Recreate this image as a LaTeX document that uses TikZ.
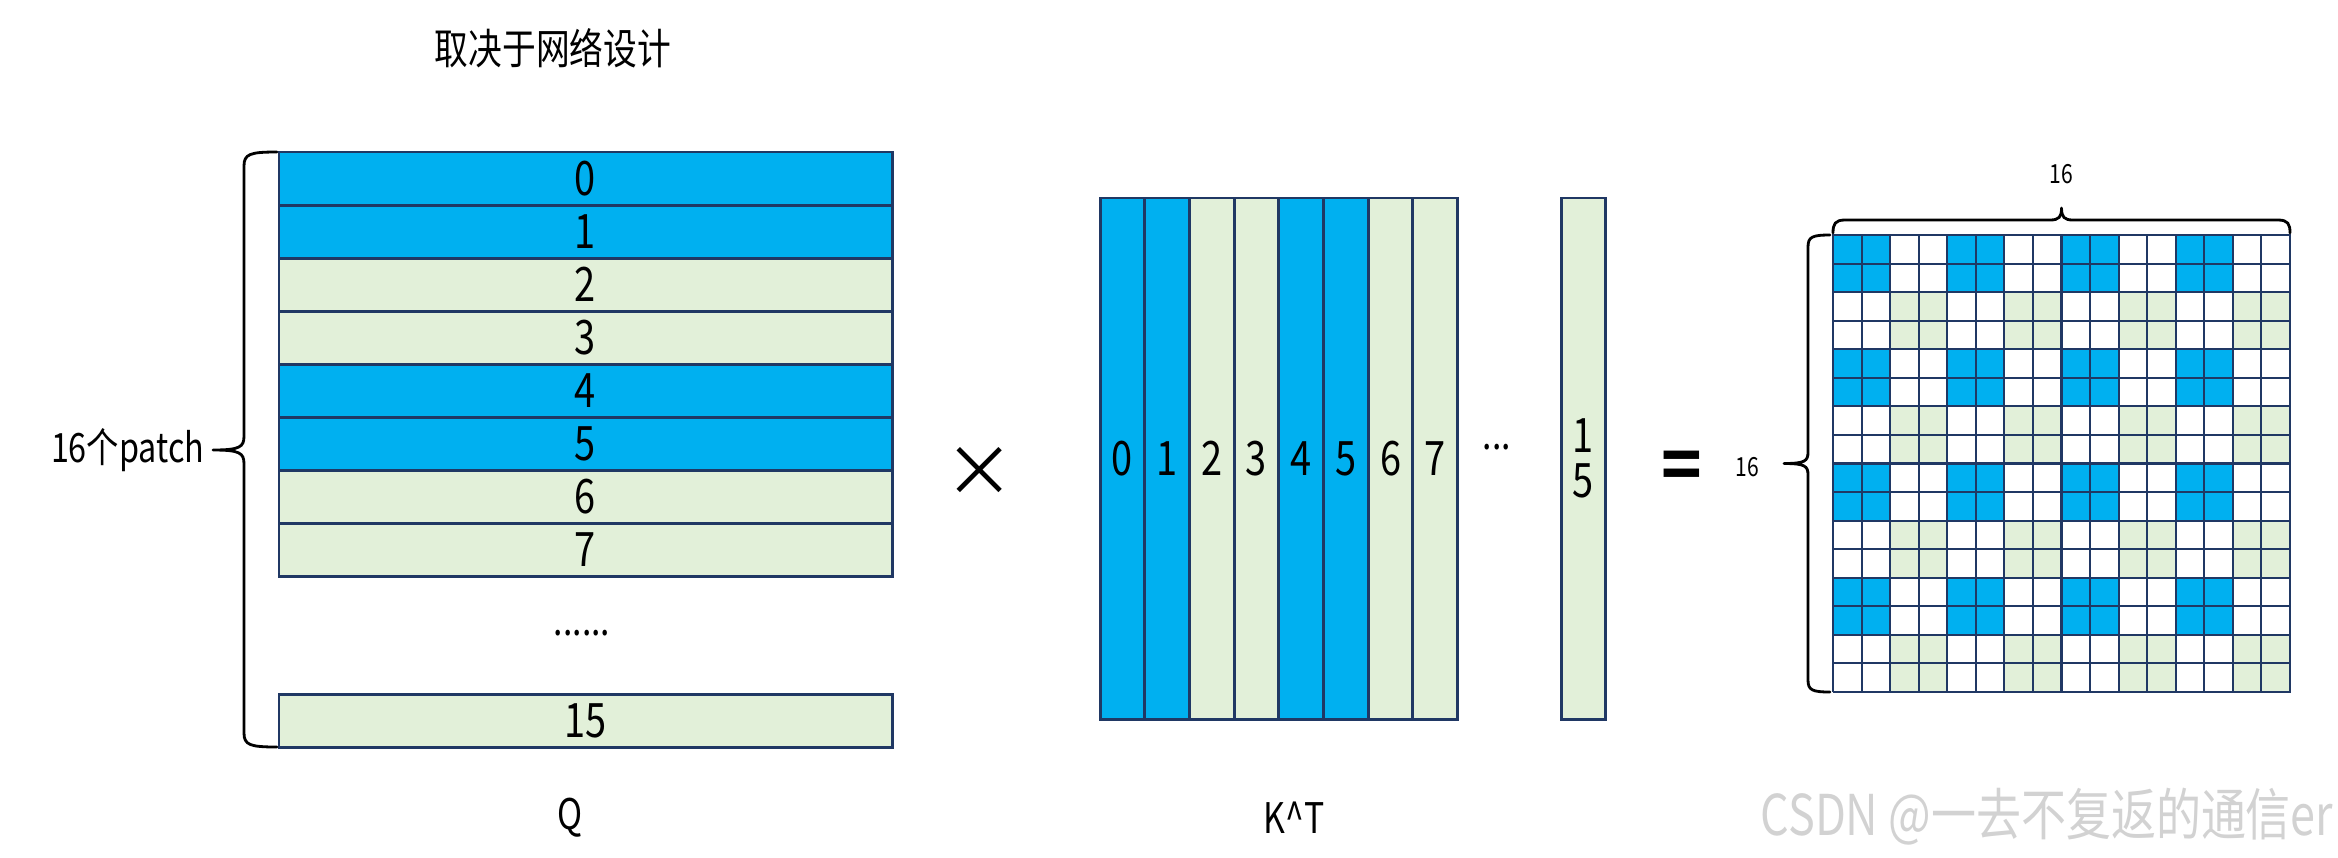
\documentclass[tikz,border=0pt]{standalone}
\usepackage{fontspec}
\setmainfont{Noto Sans CJK SC}[FakeStretch=0.8]
\newfontfamily\symfont{Noto Sans CJK SC}
\usepackage{tikz}
\usetikzlibrary{arrows.meta,calc,positioning}
\definecolor{qblue}{HTML}{00B0F0}
\definecolor{qgreen}{HTML}{E2F0D9}
\definecolor{qline}{HTML}{203864}

\begin{document}
\begin{tikzpicture}[
    qrow/.style={draw=qline, line width=0.85pt, minimum width=6.13cm, minimum height=0.53cm, inner sep=0pt, font=\fontsize{13.5}{13.5}\selectfont},
    kcol/.style={draw=qline, line width=0.85pt, minimum width=0.447cm, minimum height=5.21cm, inner sep=0pt, align=center, font=\fontsize{13.5}{12.8}\selectfont},
    gcell/.style={draw=qline, line width=0.6pt},
    txt/.style={inner sep=0pt, font=\fontsize{12}{12}\selectfont},
    smalltxt/.style={inner sep=0pt, font=\fontsize{7.5}{7.5}\selectfont},
    symb/.style={inner sep=0pt, font=\symfont\bfseries\fontsize{19}{19}\selectfont},
    brc/.style={thick, line cap=round}
  ]
    \useasboundingbox (0,0) rectangle (23.38,-8.57);

    % Q
    \node[txt] (title) at (5.53,-0.48) {取决于网络设计};
    \foreach \i/\c in {0/qblue,1/qblue,2/qgreen,3/qgreen,4/qblue,5/qblue,6/qgreen,7/qgreen}
      \node[qrow, fill=\c] (q\i) at (5.855,{-1.785-0.53*\i}) {\i};
    \node[txt] (qdots) at (5.82,-6.33) {......};
    \node[qrow, fill=qgreen] (q15) at (5.855,-7.21) {15};
    \draw[brc] (2.77,-1.52) .. controls (2.50,-1.52) and (2.44,-1.54) .. (2.44,-1.66)
      -- (2.44,-4.36) .. controls (2.44,-4.47) and (2.40,-4.50) .. (2.13,-4.50)
      (2.77,-7.47) .. controls (2.50,-7.47) and (2.44,-7.45) .. (2.44,-7.33)
      -- (2.44,-4.64) .. controls (2.44,-4.53) and (2.40,-4.50) .. (2.13,-4.50);
    \node[txt, anchor=east, font=\fontsize{11.5}{11.5}\selectfont] (npatch) at (2.05,-4.50) {16个patch};
    \node[txt] (qname) at (5.70,-8.18) {Q};

    \node[inner sep=0pt, font=\symfont\fontsize{20}{20}\selectfont] (times) at (9.80,-4.72) {×};

    % K^T
    \foreach \i/\c in {0/qblue,1/qblue,2/qgreen,3/qgreen,4/qblue,5/qblue,6/qgreen,7/qgreen}
      \node[kcol, fill=\c] (k\i) at ({11.2235+0.447*\i},-4.585) {\i};
    \node[txt] (kdots) at (14.97,-4.475) {...};
    \node[kcol, fill=qgreen] (k15) at (15.835,-4.585) {1\\5};
    \node[txt] (kname) at (12.94,-8.18) {K\textasciicircum T};

    \node[symb] (equal) at (16.82,-4.70) {=};

    % result
    \coordinate (gbl) at (18.33,-6.9196);
    \foreach \a in {0,...,3}
      \foreach \b in {0,...,3} {
        \fill[qblue] ({18.33+1.1424*\a},{-2.35-1.1424*\b}) rectangle ++(0.5712,-0.5712);
        \fill[qgreen] ({18.9012+1.1424*\a},{-2.9212-1.1424*\b}) rectangle ++(0.5712,-0.5712);
      }
    \begin{scope}[shift={(gbl)}]
      \draw[gcell] (0,0) grid[step=0.2856] (4.575,4.575);
    \end{scope}
    \draw[brc] (18.33,-2.33) .. controls (18.33,-2.24) and (18.35,-2.20) .. (18.45,-2.20)
      -- (20.50,-2.20) .. controls (20.59,-2.20) and (20.615,-2.17) .. (20.615,-2.08)
      (22.90,-2.33) .. controls (22.90,-2.24) and (22.88,-2.20) .. (22.78,-2.20)
      -- (20.73,-2.20) .. controls (20.64,-2.20) and (20.615,-2.17) .. (20.615,-2.08);
    \node[smalltxt] (ncol) at (20.61,-1.74) {16};
    \draw[brc] (18.30,-2.35) .. controls (18.12,-2.35) and (18.08,-2.37) .. (18.08,-2.47)
      -- (18.08,-4.52) .. controls (18.08,-4.61) and (18.05,-4.635) .. (17.84,-4.635)
      (18.30,-6.92) .. controls (18.12,-6.92) and (18.08,-6.90) .. (18.08,-6.80)
      -- (18.08,-4.75) .. controls (18.08,-4.66) and (18.05,-4.635) .. (17.84,-4.635);
    \node[smalltxt] (nrow) at (17.47,-4.67) {16};

    \node[anchor=west, inner sep=0pt, text=gray!35, font=\fontsize{16}{16}\selectfont] (mark) at (17.60,-8.17) {CSDN @一去不复返的通信er};
  \end{tikzpicture}
\end{document}
